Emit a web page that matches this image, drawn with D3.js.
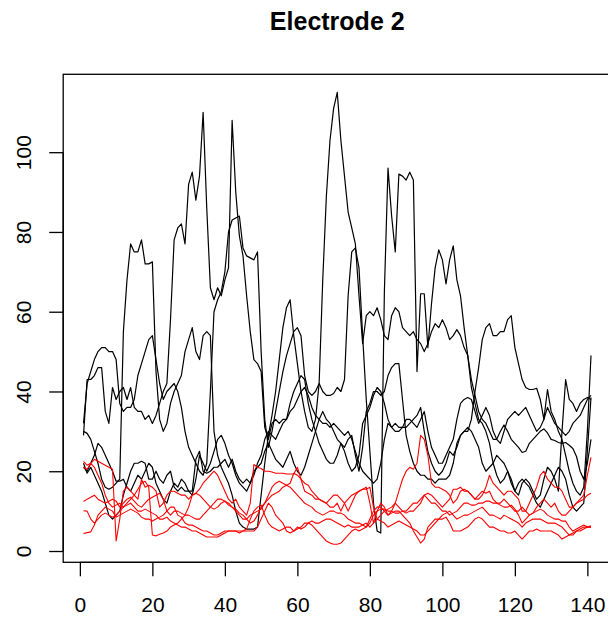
<!DOCTYPE html>
<html><head><meta charset="utf-8">
<script src="https://cdn.jsdelivr.net/npm/d3@7"></script>
<style>body{margin:0;background:#fff}svg{display:block}</style>
</head><body><svg id="c" width="608" height="617"></svg>
<script>
const chartTitle = "Electrode 2";
const xTicks = [0, 20, 40, 60, 80, 100, 120, 140];
const yTicks = [0, 20, 40, 60, 80, 100];

const black1 = [29,43,43,44,46,46,35,32,41,38, 40,41,38,41,36,35,35,33,34,32, 34,37,40,42,58,78,81,82,77,92,
 95,88,94,110,86,66,63,66,64,68, 71,108,90,79,74,64,55,48,47,45, 31,28,32,33,32,33,33,37,40,42,
 44,43,37,33,30,27,25,23,22,22, 24,27,26,28,29,24,20,26,35,37, 40,40,39,40,44,46,47,47,38,29,
 25,22,20,19,19,18,18,17,18,18, 18,19,22,27,29,30,30,33,40,46, 53,56,57,54,54,55,55,58,59,51,
 47,43,41,40.5,40.5,40.8,38,33,40.5,35, 33,30,28,24,20,17,15,14,16,30, 49];
const black2 = [30,29.5,28,25,22,18,16,15.5,16,17, 18,55,68,77,75,75,78,72,72,72.5, 45,33,30,32,37,40,42,44,50,53,
 56,50,48,54,55,54,30,24,21,19, 17,14,10,7,6,5.5,5.5,5.5,6,14, 22,29,34,40,48,56,61,63,54,47,
 40,35,31,30,33,42,68,89,103,111, 115,103,94,85,81,77,64,52,59,60, 59,61,58,54,53,59,61,60,56,55,
 54,55,53,52,50,52,55,57,56,58, 56,53,54,55.5,54,51,49,43,39,35, 33,32,30,28,28,30,31.6,30,28,27,
 26,24.7,25,27,28,29,30,30.6,29.6,28, 27.7,27.2,27,27.2,26.5,25.7,23.7,20,18,22, 28];
const black3 = [32,42,45,48,50,51,51,50,50,48, 37,35,36,36,38,44,47,50,53,54, 48,42,38,40,41,42,40,36,30,26,
 24,22,20,19,22,40,60,63,65,70, 80,83,83.5,84,76,74,73.5,73,75,50, 33,26,30,35,40,45,49,52,55,56,
 54,44,40,39,40,42,40,39,39,39.5, 41,40,43,64,75,76,71,54,38,25, 12,5,4.5,65,96,84,75,94.5,94,93,
 95,93,45,64.5,64.5,51,62,71,75.5,73, 67,73,76.5,68,64,56,49,41,37,33, 32,30,27,22,19,17,18,20,18,15,
 14,17,18,17,15,13,14,18,21,20, 18,15,30,43,38,37,35,37,38,38.5, 38];
const black4 = [22,19.5,21,19,17,15,12,9,8,9, 10,14,17,20,22,22,22.5,22,18,18, 20,18,17,19,20,16,15,16,15,15,
 15,23,25,20,19.5,20,21,21,22,23, 21,23,20,18,17,18,17,20,21,22, 25,27,25,23,22,21,23,25,22,20,
 19,21,24,27,30,33,35,33,32,30, 28,27,25,22,20,21,24,32,34,36, 39,41,40,37,33,31,32,31,31,31,
 32,33,34,36,30,25,22,20,19,20, 22,25,24,26,29,30,31,30,28,26, 22,20,21,22,24,23,22,20,17,15,
 17,18,17,16,14,12,11,13,15,17, 19,21,20,18,14,11,10,11,12,25, 38.5];
const black5 = [21,20,22,24,27,26,24,22,20,17.5, 17.5,18,16,15,17,19,18,20,22,21, 17,15,13,12,15,17,16,18,17,15,
 14,18,24,22,20,22,25,28,29,27, 24,22,19,17,16,15,17,19,22,24, 28,30,29,28,30,32,33,35,36,38,
 40,41,39,36,34,33,32,32,31,32, 31,30,29,30,28,25,22,20,19,18, 17,18,22,28,32,31,30,30,31,33,
 33,32,31,33,35,30,26,24,22,22, 24,26,28,33,37,38,38.5,38,35,32, 34,36,34,30,28,27,30,33,34,35,
 34,35,36,34,32,30,31,33,36,34, 32,31,30,29,30,32,33,34,36,38, 39];

const red1 = [22.5,21.5,22,23,22.5,22,21.5,21,20.5,2.5, 8,15,16,15,14,13,18,16,16.5,16, 15,11,12,14,15,15,14.5,14,14,13,
 14,14.5,15.5,17,18,19,20,19,17,15, 13,12,13,11,10,9,12,21.7,21,20.7, 20,20,19.8,19.5,19.5,19.5,19.3,19.3,19.3,21,
 18,15,14.5,14,13,13,12.5,12,11,11, 12,10,12,13,14,14.5,15,15.5,16,12, 7,10,12,11,9,10,12,15,18,20,
 21,20.5,22,29,28,24,17,16,16,15.5, 15,14,12,13,15,15.5,15,14,13,13, 14,16,19,17,16,15,14,15,15,14,
 13,10,10,12,14,16,19,20,18,17, 16,16,15,13,11,11,12,13,14,19, 23.5];
const red2 = [21,20.5,22,21,19,17,14,12,11,11.5, 12,11,12,13,14,15.5,17,17.5,16,4, 3.8,4.2,4.5,5,6,6.5,7,8,9,11,
 14,14.5,14,13,12,11,10.5,11,12,12.5, 11.5,11,10,9,8,8,9,9.5,10,10.5, 12,14,16,17,17.5,17,16.5,17,19.5,19,
 18,17,16.5,15,14,13,12.5,12,13,14, 14,13,12,10,12,14,15,15.5,15.5,16, 11,8,9,10,10.5,11,12,11,10,9.5,
 10,10,11,12,14,14.5,14,13,12,11, 12,13,15.5,15.5,16,15,15,14,13,14, 15,14.5,15,13,12,12,13,12,11,10,
 10,11,10,9,9.5,11,12,13,12,11, 12,10,9,9,10,11,12,12.5,13,14, 14.5];
const red3 = [12.4,13,13.5,14,13,12.5,12,12.5,13,12.5, 11,12,13,13.5,12.5,11.5,11,12,13,13.5, 14,14.5,13,10,9,10,10,9.5,9,9,
 8.5,8,8,9,10,11,12,13,13,12.5, 12,11,10.5,9.5,9,8,7,7.5,9,11, 12,13,14,14.5,15,16,16.5,16,15,14,
 13,12,11.5,11,10,9.5,9,9.5,10,10, 9.5,9.5,9,8,7.5,7,7,6.5,6,7, 9,10,10.5,10.5,10,10,9.5,9.5,10,10,
 11,12,12,13,14,13,12,12,11,10, 10,9,9.5,10,11,12,12,11.5,11.5,12, 12,12.5,12.5,12,12,11.5,11,11,11.5,10.5,
 9,7,8,9,9.5,10,10.5,10,9,8.5, 8,8,7.5,7.5,6,5,5.5,6,6.5,6, 6.3];
const red4 = [10.1,10,8,7,8,9,9.5,9,8.5,9, 10,11,11.5,12,11,10,10,10.5,10,9.5, 9,8,8,8.5,7.5,7,6.5,6,6,5.5,
 5,5,4.5,4,3.5,3.5,3.5,3.5,4,4.5, 5,5,5,5,5,5.5,8,10,11,11.5, 9,7,6,5.5,5,5.5,6,6,5,6,
 5.5,6,7,7.5,7,7,7.5,8,8,7.5, 7,6.5,6,6.5,6,6,6,6.5,7,6, 7,8,7.5,7,6,6.5,7,7.5,7,6.5,
 6,5.5,5,4,4,5,6,7,8,9, 9.5,10,9,8,8.5,9,9,9.5,10,10.5, 11,10,9,9,8.5,8,9,8.5,8,7.5,
 7,6,7,7.5,8,8,8,7.5,7,7, 7,6.5,6,5,4,4.5,5,5.5,6,6, 6];
const red5 = [4.4,4.6,4.8,6.5,9,10,11,10.5,10,8.5, 9,9.5,10,10.5,10,9.5,8.5,8,8,7.5, 8,8.5,9,10,11,11,9,8.5,7,6.5,
 6.5,6,5.5,5,5,4.5,4,4,4.5,5, 5,5,5,4.5,5,5,5,5,6,8, 10,12,11,9,8,7,5,4.5,5,5.5,
 6,7,7,6.5,5.5,4.5,3.5,2.5,2,1.7, 1.7,2,3,4,5,5.5,5,5.5,6,8, 10,11,11,10,9,9.5,10,10,9,8,
 7,5,3.5,2,3,6,7,8,8,8, 8.5,7,5,5,5,5.5,6,7,8,8.5, 8,7,6,6,5.5,5,5,4.5,4.5,5,
 4,3,4,5,5,5.5,5,5,5,5, 4.5,4,3,3.5,4,4,5,5,5.5,6, 6];

const blackSeries = [black1, black2, black3, black4, black5];
const redSeries = [red1, red2, red3, red4, red5];

const svg = d3.select("#c");
const font = "'Liberation Sans', Arial, Helvetica, sans-serif";
const plot = {left: 63.2, right: 611.3, top: 74.3, bottom: 562.3};
const n = black1.length;
const xIdx = d3.range(1, n + 1);
const allVals = blackSeries.concat(redSeries).flat();
const yMin = d3.min(allVals), yMax = d3.max(allVals);
const xPad = (n - 1) * 0.04, yPad = (yMax - yMin) * 0.04;

const x = d3.scaleLinear().domain([1 - xPad, n + xPad]).range([plot.left, plot.right]);
const y = d3.scaleLinear().domain([yMin - yPad, yMax + yPad]).range([plot.bottom, plot.top]);

const line = d3.line().x((d, i) => x(xIdx[i])).y(d => y(d));

const g = svg.append("g");
blackSeries.forEach(s => g.append("path").attr("d", line(s))
  .attr("fill", "none").attr("stroke", "#000").attr("stroke-width", 1.2).attr("stroke-linejoin", "round"));
redSeries.forEach(s => g.append("path").attr("d", line(s))
  .attr("fill", "none").attr("stroke", "#ff0000").attr("stroke-width", 1.1).attr("stroke-linejoin", "round"));

svg.append("rect").attr("x", plot.left).attr("y", plot.top)
  .attr("width", plot.right - plot.left).attr("height", plot.bottom - plot.top)
  .attr("fill", "none").attr("stroke", "#000").attr("stroke-width", 1.3);

const xa = svg.append("g").attr("transform", `translate(0,${plot.bottom})`)
  .call(d3.axisBottom(x).tickValues(xTicks).tickSize(14).tickSizeOuter(0).tickFormat(d3.format("d")));
xa.select(".domain").remove();
xa.append("line").attr("x1", x(xTicks[0])).attr("x2", x(xTicks[xTicks.length - 1]))
  .attr("stroke", "#000").attr("stroke-width", 1.3);
xa.selectAll(".tick line").attr("stroke", "#000").attr("stroke-width", 1.3);
xa.selectAll(".tick text").attr("y", 49.7).attr("dy", null)
  .attr("font-family", font).attr("font-size", 21).attr("fill", "#000");

const ya = svg.append("g").attr("transform", `translate(${plot.left},0)`)
  .call(d3.axisLeft(y).tickValues(yTicks).tickSize(14).tickSizeOuter(0).tickFormat(d3.format("d")));
ya.select(".domain").remove();
ya.append("line").attr("y1", y(yTicks[0])).attr("y2", y(yTicks[yTicks.length - 1]))
  .attr("stroke", "#000").attr("stroke-width", 1.3);
ya.selectAll(".tick line").attr("stroke", "#000").attr("stroke-width", 1.3);
ya.selectAll(".tick text").attr("x", null).attr("dy", null).attr("y", null)
  .attr("transform", "translate(-32.2,0) rotate(-90)")
  .attr("text-anchor", "middle")
  .attr("font-family", font).attr("font-size", 21).attr("fill", "#000");

svg.append("text").attr("x", (plot.left + plot.right) / 2).attr("y", 29.5)
  .attr("text-anchor", "middle").attr("font-family", font).attr("font-weight", "bold")
  .attr("font-size", 25).attr("fill", "#000").text(chartTitle);
</script></body></html>
